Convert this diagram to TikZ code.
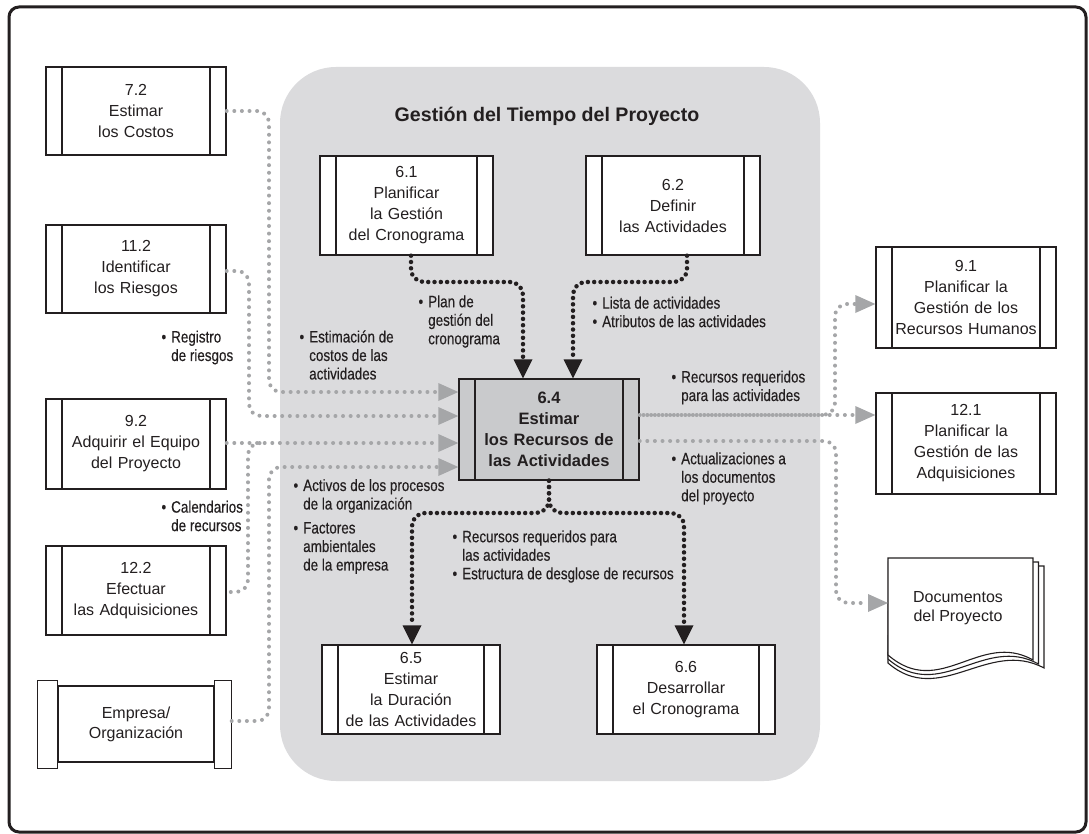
\documentclass[tikz,border=0pt]{standalone}
\usepackage{fontspec}
\setmainfont{Liberation Sans}
\newfontfamily\condfont[FakeStretch=0.82,FakeBold=0.35]{Liberation Sans}
\usetikzlibrary{arrows.meta}
\definecolor{panelgray}{HTML}{DBDBDD}
\definecolor{hubgray}{HTML}{C9CACC}
\definecolor{flowgray}{HTML}{A5A6A8}
\definecolor{ink}{HTML}{231F20}
\newcommand\itembul{\llap{\textbullet\hspace{5pt}}}

\begin{document}
\begin{tikzpicture}[x=1pt,y=-1pt,
  procbox/.style={draw=ink, line width=1.4pt, fill=white, inner sep=0pt,
    align=center, text=ink, font=\fontsize{16}{21}\selectfont,
    path picture={\draw[ink,line width=1.4pt]
      ([xshift=16pt]path picture bounding box.north west) -- ([xshift=16pt]path picture bounding box.south west)
      ([xshift=-16pt]path picture bounding box.north east) -- ([xshift=-16pt]path picture bounding box.south east);}},
  lbl/.style={anchor=west, align=left, inner sep=0pt, text=ink,
    font=\condfont\fontsize{16.4}{18.5}\selectfont},
  flowline/.style={draw=flowgray, line width=4pt, line cap=round,
    dash pattern=on 0pt off 7.6pt, rounded corners=12pt},
  flow/.style={flowline, -{Triangle[length=20pt,width=18pt,line width=0pt]}},
  dflow/.style={draw=ink, line width=4.5pt, line cap=round,
    dash pattern=on 0pt off 6.3pt, rounded corners=13pt,
    -{Triangle[length=19pt,width=19pt,line width=0pt]}}
]
% canvas and frame
\fill[white] (0,0) rectangle (1089,834);
\useasboundingbox (0,0) rectangle (1089,834);
\draw[ink, line width=3pt, rounded corners=10pt] (9,7) rectangle (1086,832);

% time management panel
\fill[panelgray, rounded corners=56pt] (280,67) rectangle (820,781);
\node[text=ink, font=\bfseries\fontsize{19.6}{22}\selectfont] (title) at (547,116) {Gestión del Tiempo del Proyecto};

% processes
\node[procbox, minimum width=180pt, minimum height=88pt, text width=146pt] (n72) at (136,111) {7.2\\Estimar\\los Costos};
\node[procbox, minimum width=180pt, minimum height=88pt, text width=146pt] (n112) at (136,269) {11.2\\Identificar\\los Riesgos};
\node[procbox, minimum width=180pt, minimum height=90pt, text width=146pt] (n92) at (136,444) {9.2\\Adquirir el Equipo\\del Proyecto};
\node[procbox, minimum width=180pt, minimum height=89pt, text width=146pt] (n122) at (136,590.5) {12.2\\Efectuar\\las Adquisiciones};

\node[procbox, minimum width=173pt, minimum height=99pt, text width=140pt] (n61) at (406.5,205.5) {6.1\\Planificar\\la Gestión\\del Cronograma};
\node[procbox, minimum width=174pt, minimum height=99pt, text width=140pt] (n62) at (673,205.5) {6.2\\Definir\\las Actividades};
\node[procbox, fill=hubgray, minimum width=180pt, minimum height=101pt, text width=146pt,
  font=\bfseries\fontsize{16.5}{21}\selectfont] (n64) at (549,429.5) {6.4\\Estimar\\los Recursos de\\las Actividades};
\node[procbox, minimum width=178pt, minimum height=89pt, text width=146pt] (n65) at (411,689.5) {6.5\\Estimar\\la Duración\\de las Actividades};
\node[procbox, minimum width=178pt, minimum height=89pt, text width=146pt] (n66) at (686,689.5) {6.6\\Desarrollar\\el Cronograma};

\node[procbox, minimum width=180pt, minimum height=101pt, text width=146pt] (n91) at (966,297.5) {9.1\\Planificar la\\Gestión de los\\Recursos Humanos};
\node[procbox, minimum width=180pt, minimum height=101pt, text width=146pt] (n121) at (966,443.5) {12.1\\Planificar la\\Gestión de las\\Adquisiciones};

% enterprise / organization
\node[draw=ink, line width=1.4pt, fill=white, inner sep=0pt, minimum width=156pt, minimum height=76pt,
  align=center, text=ink, font=\fontsize{16}{20}\selectfont] (emp) at (136,724) {Empresa/\\Organización};
\draw[ink, line width=1.4pt, fill=white] ([xshift=-20pt,yshift=5pt]emp.north west) rectangle ([yshift=-6pt]emp.south west);
\draw[ink, line width=1.4pt, fill=white] ([yshift=5pt]emp.north east) rectangle ([xshift=17pt,yshift=-6pt]emp.south east);

% project documents (stacked pages)
\foreach \k in {2,1,0}{
  \draw[ink, line width=1.1pt, fill=white]
    ({888+\k*0.5},{558+\k*4}) -- ({1033+\k*5.5},{558+\k*4}) -- ({1033+\k*5.5},{660+\k*4})
    .. controls ({980+\k*4},{630+\k*4}) and (940,{700+\k*4}) .. (888,{655+\k*4}) -- cycle;
}
\node[align=center, text=ink, font=\fontsize{16}{19}\selectfont] (doc) at (958,608) {Documentos\\del Proyecto};
\coordinate (docin) at (888,603);

% inputs to 6.4
\draw[flow] (n72.east) -- (269,111) -- (269,392) -- (n64.west |- 0,392);
\draw[flow] (n112.east |- 0,271) -- (249,271) -- (249,416) -- (n64.west |- 0,416);
\draw[flow] (n92.east |- 0,443) -- (n64.west |- 0,443);
\coordinate (join3) at (262,443);
\draw[flowline, dash phase=3.5pt] (n122.east |- 0,592) -- (248,592) -- (248,443) -- (join3);
\draw[flow] ([xshift=17pt,yshift=3pt]emp.east) -- (269,721) -- (269,467) -- (n64.west |- 0,467);

% outputs of 6.4
\draw[flow] (n64.east |- 0,415) -- (n121.west |- 0,415);
\draw[flow, dash phase=3.8pt] (n64.east |- 0,415) -- (835,415) -- (835,304) -- (n91.west |- 0,304);
\draw[flow] (n64.east |- 0,441) -- (836,441) -- (836,603) -- (docin);

% flows inside the panel
\draw[dflow] (n61.south -| 411,0) -- (411,282) -- (523,282) -- (n64.north -| 523,0);
\draw[dflow] (n62.south -| 687,0) -- (687,282) -- (573,282) -- (n64.north -| 573,0);
\draw[dflow] (n64.south) -- (549,513) -- (412,513) -- (n65.north -| 412,0);
\draw[dflow] (n64.south) -- (549,513) -- (684,513) -- (n66.north -| 684,0);

% labels
\node[lbl] (lplan) at (428,321.5) {\itembul Plan de\\gestión del\\cronograma};
\node[lbl] (llista) at (602,312) {\itembul Lista de actividades\\\itembul Atributos de las actividades};
\node[lbl] (lriesgo) at (171,347.5) {\itembul Registro\\de riesgos};
\node[lbl] (lcostos) at (309,355) {\itembul Estimación de\\costos de las\\actividades};
\node[lbl] (lrecout) at (681,387.5) {\itembul Recursos requeridos\\para las actividades};
\node[lbl] (lactual) at (681,478.5) {\itembul Actualizaciones a\\los documentos\\del proyecto};
\node[lbl] (lcalend) at (171,516) {\itembul Calendarios\\de recursos};
\node[lbl] (lactivos) at (303,526.5) {\itembul Activos de los procesos\\de la organización\\[5.5pt]\itembul Factores\\ambientales\\de la empresa};
\node[lbl] (lrecdown) at (462,556.5) {\itembul Recursos requeridos para\\las actividades\\\itembul Estructura de desglose de recursos};
\end{tikzpicture}
\end{document}
